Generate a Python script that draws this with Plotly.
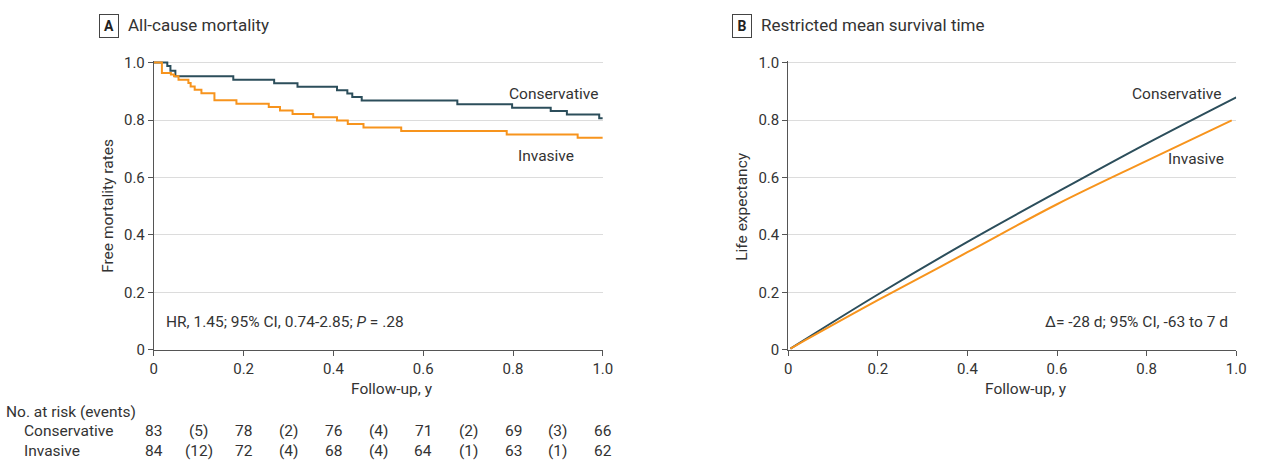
import plotly.graph_objects as go

# ---------------- data ----------------
cons_t = [0, 0.030, 0.037, 0.048, 0.177, 0.268, 0.320, 0.408, 0.431, 0.442, 0.463,
          0.676, 0.798, 0.884, 0.920, 0.992, 1.0]
cons_s = [1.0, 0.988, 0.971, 0.952, 0.940, 0.928, 0.916, 0.904, 0.892, 0.880, 0.868,
          0.855, 0.843, 0.831, 0.819, 0.806, 0.806]

inv_t = [0, 0.018, 0.038, 0.045, 0.055, 0.077, 0.082, 0.091, 0.106, 0.135, 0.184,
         0.256, 0.281, 0.309, 0.355, 0.408, 0.432, 0.467, 0.551, 0.786, 0.944, 1.0]
inv_s = [1.0, 0.964, 0.958, 0.952, 0.940, 0.929, 0.917, 0.905, 0.893, 0.869, 0.857,
         0.845, 0.833, 0.821, 0.810, 0.798, 0.786, 0.774, 0.762, 0.750, 0.738, 0.738]

rmst_cons_t = [0.005, 0.2, 0.4, 0.6, 0.8, 1.0]
rmst_cons_v = [0.005, 0.193, 0.376, 0.549, 0.718, 0.879]
rmst_inv_t = [0.005, 0.2, 0.4, 0.6, 0.8, 0.99]
rmst_inv_v = [0.005, 0.173, 0.340, 0.507, 0.658, 0.799]

tick_vals = [0, 0.2, 0.4, 0.6, 0.8, 1.0]
tick_text = ["0", "0.2", "0.4", "0.6", "0.8", "1.0"]

risk_times = [0, 0.1, 0.2, 0.3, 0.4, 0.5, 0.6, 0.7, 0.8, 0.9, 1.0]
risk_cons = ["83", "(5)", "78", "(2)", "76", "(4)", "71", "(2)", "69", "(3)", "66"]
risk_inv = ["84", "(12)", "72", "(4)", "68", "(4)", "64", "(1)", "63", "(1)", "62"]

# ---------------- style ----------------
W, H = 1265, 472
FONT = "Roboto, sans-serif"
TXT = "#333333"
DARK = "#2c4e5b"
ORANGE = "#f7941d"
AX = "#555555"
GRID = "#dcdcdc"
FS = 15.5


def px(x):
    return x / W


def py(y):
    return 1 - y / H


fig = go.Figure()
fig.add_trace(go.Scatter(x=cons_t, y=cons_s, mode="lines", line=dict(color=DARK, width=2, shape="hv"),
                         xaxis="x", yaxis="y", showlegend=False, hoverinfo="skip"))
fig.add_trace(go.Scatter(x=inv_t, y=inv_s, mode="lines", line=dict(color=ORANGE, width=2, shape="hv"),
                         xaxis="x", yaxis="y", showlegend=False, hoverinfo="skip"))
fig.add_trace(go.Scatter(x=rmst_cons_t, y=rmst_cons_v, mode="lines", line=dict(color=DARK, width=2, shape="spline"),
                         xaxis="x2", yaxis="y2", showlegend=False, hoverinfo="skip"))
fig.add_trace(go.Scatter(x=rmst_inv_t, y=rmst_inv_v, mode="lines", line=dict(color=ORANGE, width=2, shape="spline"),
                         xaxis="x2", yaxis="y2", showlegend=False, hoverinfo="skip"))

y_dom = [py(355), py(56)]
axis_common = dict(showline=True, linecolor=AX, linewidth=1, ticks="outside", ticklen=5,
                   tickcolor=AX, tickwidth=1, tickfont=dict(size=15, color=TXT, family=FONT),
                   tickvals=tick_vals, ticktext=tick_text, zeroline=False, fixedrange=True)

fig.update_layout(
    width=W, height=H,
    margin=dict(l=0, r=0, t=0, b=0),
    paper_bgcolor="white", plot_bgcolor="white",
    font=dict(family=FONT, size=FS, color=TXT),
    xaxis=dict(domain=[px(151.5), px(605.5)], range=[0, 1], showgrid=False, anchor="y", **axis_common),
    yaxis=dict(domain=y_dom, range=[0, 1.005], showgrid=True, gridcolor=GRID, gridwidth=1, anchor="x", **axis_common),
    xaxis2=dict(domain=[px(793), px(1246)], range=[0, 1], showgrid=False, anchor="y2", **axis_common),
    yaxis2=dict(domain=y_dom, range=[0, 1.005], showgrid=True, gridcolor=GRID, gridwidth=1, anchor="x2", **axis_common),
)

ann = []


def A(**kw):
    d = dict(showarrow=False, font=dict(family=FONT, size=FS, color=TXT))
    d.update(kw)
    ann.append(d)


# panel titles
for letter, bx, title in [("A", 96, "All-cause mortality"), ("B", 736, "Restricted mean survival time")]:
    A(text="<b>%s</b>" % letter, xref="paper", yref="paper", x=px(bx), y=py(20), xanchor="left", yanchor="middle",
      bordercolor="#444444", borderwidth=1, borderpad=2, width=14, height=18,
      font=dict(family=FONT, size=14, color="#222222"))
    A(text=title, xref="paper", yref="paper", x=px(bx + 27), y=py(19), xanchor="left", yanchor="middle",
      font=dict(family=FONT, size=17, color=TXT))

# axis titles
A(text="Follow-up, y", xref="paper", yref="paper", x=px(392), y=py(395), xanchor="center", yanchor="middle")
A(text="Follow-up, y", xref="paper", yref="paper", x=px(1033), y=py(395), xanchor="center", yanchor="middle")
A(text="Free mortality rates", xref="paper", yref="paper", x=px(105), y=py(206), textangle=-90,
  xanchor="center", yanchor="middle")
A(text="Life expectancy", xref="paper", yref="paper", x=px(746), y=py(206), textangle=-90,
  xanchor="center", yanchor="middle")

# curve labels
A(text="Conservative", xref="x", yref="y", x=0.994, y=0.891, xanchor="right", yanchor="middle")
A(text="Invasive", xref="x", yref="y", x=0.807, y=0.676, xanchor="left", yanchor="middle")
A(text="Conservative", xref="x2", yref="y2", x=0.971, y=0.892, xanchor="right", yanchor="middle")
A(text="Invasive", xref="x2", yref="y2", x=0.978, y=0.664, xanchor="right", yanchor="middle")

# statistics
A(text="HR, 1.45; 95% CI, 0.74-2.85; <i>P</i> = .28", xref="x", yref="y", x=0.023, y=0.097,
  xanchor="left", yanchor="middle")
A(text="Δ= -28 d; 95% CI, -63 to 7 d", xref="x2", yref="y2", x=0.987, y=0.096,
  xanchor="right", yanchor="middle")

# number at risk table
A(text="No. at risk (events)", xref="paper", yref="paper", x=0, y=py(419), xanchor="left", yanchor="middle")
A(text="Conservative", xref="paper", yref="paper", x=px(18), y=py(439), xanchor="left", yanchor="middle")
A(text="Invasive", xref="paper", yref="paper", x=px(18), y=py(460), xanchor="left", yanchor="middle")
for t, c, i in zip(risk_times, risk_cons, risk_inv):
    A(text=c, xref="x", yref="paper", x=t, y=py(439), xanchor="center", yanchor="middle")
    A(text=i, xref="x", yref="paper", x=t, y=py(460), xanchor="center", yanchor="middle")

fig.update_layout(annotations=ann)
fig.write_html("out.html", config={"displayModeBar": False},
               post_script="document.body.style.margin='0';document.body.style.overflow='hidden';")
